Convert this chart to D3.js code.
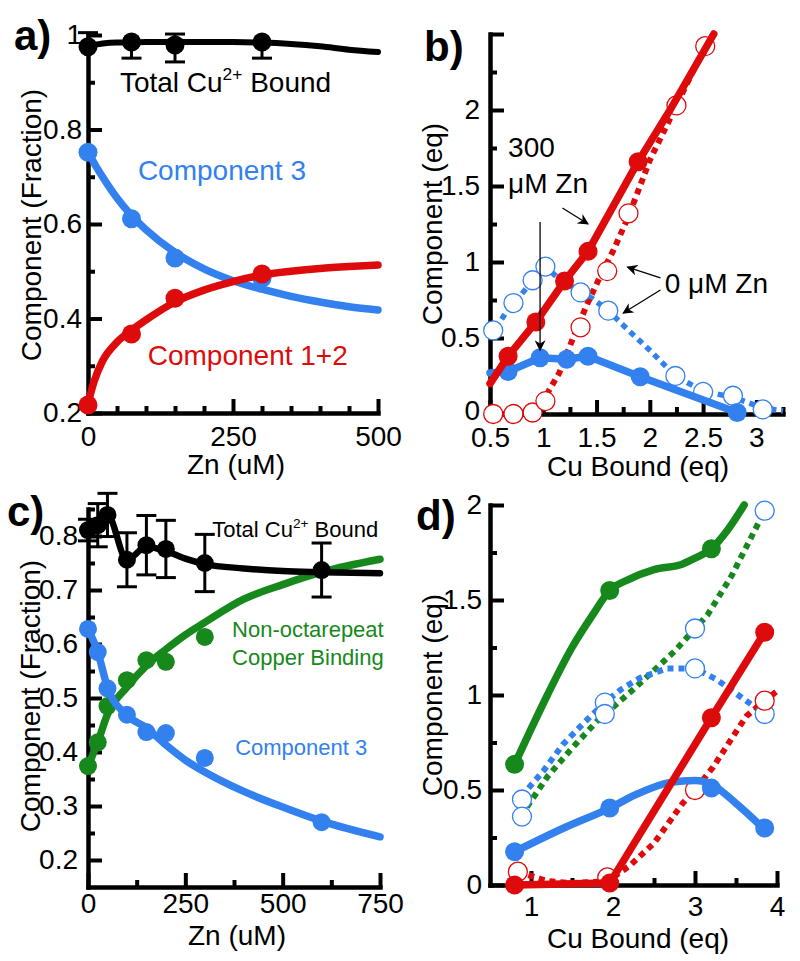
<!DOCTYPE html>
<html>
<head>
<meta charset="utf-8">
<script src="https://cdn.jsdelivr.net/npm/d3@7"></script>
<style>
  body { margin: 0; background: #fff; }
  text { font-family: Arial, "Liberation Sans", Helvetica, sans-serif; }
</style>
</head>
<body>
<div id="chart"></div>
<script>
// ---------- panel a: fraction vs Zn ----------
const aZn = [0, 75, 150, 300];
const aTotal = [0.975, 0.985, 0.979, 0.985];
const aTotalUp = [0.03, 0, 0.023, 0];
const aTotalDown = [0, 0.034, 0.036, 0.034];
const aComp3 = [0.752, 0.611, 0.528, 0.485];
const aComp12 = [0.217, 0.367, 0.443, 0.494];
const aFitZn = [0, 10, 25, 50, 75, 100, 150, 200, 250, 300, 350, 400, 450, 500];
const aTotalFit = [0.975, 0.979, 0.982, 0.984, 0.984, 0.985, 0.985, 0.985, 0.985, 0.984, 0.981, 0.976, 0.969, 0.964];
const aComp3Fit = [0.755, 0.73, 0.70, 0.655, 0.618, 0.588, 0.54, 0.505, 0.48, 0.462, 0.447, 0.435, 0.425, 0.418];
const aComp12Fit = [0.22, 0.265, 0.31, 0.35, 0.375, 0.397, 0.435, 0.46, 0.478, 0.492, 0.5, 0.506, 0.51, 0.513];

// ---------- panel b: eq vs Cu bound ----------
const bRed300X = [0.67, 0.93, 1.2, 1.42, 1.89];
const bRed300Y = [0.38, 0.605, 0.875, 1.07, 1.66];
const bRed300LineX = [0.5, 0.67, 0.93, 1.2, 1.42, 1.89, 2.19, 2.6];
const bRed300LineY = [0.2, 0.38, 0.605, 0.875, 1.07, 1.66, 2.0, 2.5];
const bBlue300X = [0.67, 0.97, 1.22, 1.42, 1.91, 2.82];
const bBlue300Y = [0.28, 0.37, 0.36, 0.38, 0.245, 0.01];
const bBlue300LineX = [0.5, 0.67, 0.97, 1.22, 1.42, 1.91, 2.82];
const bBlue300LineY = [0.27, 0.28, 0.37, 0.36, 0.38, 0.245, 0.01];
const bRed0X = [0.53, 0.72, 0.9, 1.02, 1.35, 1.6, 1.8, 2.25, 2.52];
const bRed0Y = [0.0, 0.0, 0.01, 0.085, 0.57, 0.94, 1.32, 2.03, 2.42];
const bRed0LineX = [0.5, 0.8, 1.0, 1.05, 1.15, 1.28, 1.41, 1.53, 1.66, 1.8, 2.0, 2.25, 2.47, 2.55];
const bRed0LineY = [0.0, 0.0, 0.06, 0.15, 0.27, 0.5, 0.72, 0.9, 1.08, 1.3, 1.67, 2.03, 2.35, 2.5];
const bBlue0X = [0.53, 0.72, 0.9, 1.02, 1.35, 1.61, 2.24, 2.5, 2.78, 3.06];
const bBlue0Y = [0.55, 0.73, 0.88, 0.97, 0.8, 0.68, 0.25, 0.145, 0.12, 0.03];
const bBlue0LineX = [0.5, 0.66, 0.72, 0.9, 1.02, 1.13, 1.35, 1.46, 1.61, 1.8, 2.0, 2.24, 2.5, 2.78, 3.06, 3.25];
const bBlue0LineY = [0.5, 0.68, 0.72, 0.88, 0.97, 0.9, 0.8, 0.76, 0.68, 0.55, 0.42, 0.25, 0.15, 0.11, 0.04, 0.02];

// ---------- panel c: fraction vs Zn ----------
const cZn = [0, 25, 50, 100, 150, 200, 300, 600];
const cTotal = [0.811, 0.82, 0.839, 0.756, 0.783, 0.776, 0.75, 0.737];
const cTotalErr = [0.02, 0.04, 0.04, 0.05, 0.055, 0.053, 0.053, 0.05];
const cComp3 = [0.628, 0.585, 0.518, 0.469, 0.437, 0.435, 0.389, 0.27];
const cNonOctaZn = [0, 25, 50, 100, 150, 200, 300];
const cNonOcta = [0.374, 0.418, 0.485, 0.533, 0.57, 0.567, 0.613];
const cFitZn = [0, 25, 50, 100, 150, 200, 250, 300, 400, 500, 600, 750];
const cTotalFit = [0.811, 0.82, 0.839, 0.756, 0.78, 0.772, 0.758, 0.748, 0.74, 0.735, 0.733, 0.731];
const cComp3Fit = [0.628, 0.585, 0.52, 0.468, 0.445, 0.413, 0.385, 0.363, 0.327, 0.298, 0.272, 0.243];
const cNonOctaFit = [0.374, 0.418, 0.47, 0.52, 0.56, 0.59, 0.617, 0.64, 0.683, 0.71, 0.733, 0.757];

// ---------- panel d: eq vs Cu bound ----------
const dCu = [0.8, 1.96, 3.2, 3.85];
const dGreen = [0.635, 1.55, 1.77];
const dGreenLineX = [0.8, 1.0, 1.2, 1.5, 1.75, 1.96, 2.2, 2.5, 2.85, 3.0, 3.2, 3.4, 3.6];
const dGreenLineY = [0.635, 0.82, 1.0, 1.25, 1.42, 1.55, 1.61, 1.66, 1.69, 1.72, 1.77, 1.87, 2.0];
const dBlue = [0.175, 0.405, 0.51, 0.3];
const dBlueLineX = [0.8, 1.4, 1.96, 2.3, 2.7, 3.0, 3.2, 3.5, 3.83];
const dBlueLineY = [0.175, 0.3, 0.405, 0.48, 0.54, 0.55, 0.53, 0.43, 0.3];
const dRed = [0.0, 0.01, 0.88, 1.33];
const dOpenCu = [0.89, 1.9, 3.0, 3.85];
const dBlueOpen = [0.45, 0.96, 1.14, 0.9];
const dGreenOpen = [0.36, 0.9, 1.35, 1.97];
const dRedOpenCu = [0.84, 1.93, 3.0, 3.85];
const dRedOpen = [0.07, 0.04, 0.5, 0.97];
const dGreenDotX = [0.95, 1.2, 1.5, 1.8, 2.25, 2.75, 3.15, 3.45, 3.85];
const dGreenDotY = [0.41, 0.57, 0.72, 0.86, 1.03, 1.23, 1.42, 1.63, 1.97];
const dBlueDotX = [0.97, 1.15, 1.39, 1.66, 1.9, 2.1, 2.33, 2.66, 3.0, 3.27, 3.59, 3.85];
const dBlueDotY = [0.51, 0.6, 0.74, 0.86, 0.96, 1.03, 1.09, 1.14, 1.14, 1.08, 0.98, 0.9];
const dRedDotX = [0.84, 1.2, 1.5, 1.93, 2.2, 2.5, 2.85, 3.0, 3.22, 3.46, 3.63, 3.85, 4.0];
const dRedDotY = [0.07, 0.02, 0.01, 0.02, 0.1, 0.22, 0.43, 0.5, 0.62, 0.78, 0.89, 0.97, 1.02];

const BLUE = '#3281ee', RED = '#dd0b0b', GREEN = '#17881b', BLACK = '#000';

const svg = d3.select('#chart').append('svg')
  .attr('width', 800)
  .attr('height', 961);

svg.append('defs').append('marker')
  .attr('id', 'arrow')
  .attr('viewBox', '0 0 10 10')
  .attr('refX', 9).attr('refY', 5)
  .attr('markerWidth', 11).attr('markerHeight', 11)
  .attr('markerUnits', 'userSpaceOnUse')
  .attr('orient', 'auto')
  .append('path')
  .attr('d', 'M0,0L10,5L0,10L3,5Z')
  .attr('fill', '#000');

const drawAxes = (x, y, s) => {
  const bottom = y.range()[0];
  const left = x.range()[0];
  const parts = [
    [d3.axisBottom(x).tickValues(s.xMinor).tickSizeInner(-7).tickFormat(''), `translate(0,${bottom})`, false],
    [d3.axisBottom(x).tickValues(s.xMajor).tickSizeInner(-14).tickPadding(s.xPad).tickFormat(s.fmt), `translate(0,${bottom})`, true],
    [d3.axisLeft(y).tickValues(s.yMinor).tickSizeInner(-7).tickFormat(''), `translate(${left},0)`, false],
    [d3.axisLeft(y).tickValues(s.yMajor).tickSizeInner(-14).tickPadding(s.yPad).tickFormat(s.yFmt || s.fmt), `translate(${left},0)`, true]
  ];
  parts.forEach(([ax, tr, keep]) => {
    const g = svg.append('g').attr('transform', tr)
      .call(ax.tickSizeOuter(0))
      .attr('font-size', 28)
      .attr('font-family', null);
    if (!keep) g.select('.domain').remove();
    g.select('.domain').attr('stroke-width', 4.5).attr('stroke-linecap', 'square');
    g.selectAll('.tick line').attr('stroke-width', 4);
    g.selectAll('.tick text').attr('fill', '#000');
  });
};

const fmt = d => d3.format('~g')(d);

const lineOf = (x, y, xs, ys, color, width, dashed, curve) => {
  svg.append('path')
    .datum(xs.map((v, i) => [v, ys[i]]))
    .attr('fill', 'none')
    .attr('stroke', color)
    .attr('stroke-width', width)
    .attr('stroke-dasharray', dashed ? '6,5' : null)
    .attr('stroke-linejoin', 'round')
    .attr('stroke-linecap', dashed ? 'butt' : 'round')
    .attr('d', d3.line().curve(curve || d3.curveLinear).x(d => x(d[0])).y(d => y(d[1])));
};

const dots = (x, y, xs, ys, color, r, open) => {
  svg.append('g').selectAll('circle')
    .data(xs.map((v, i) => [v, ys[i]]))
    .join('circle')
    .attr('cx', d => x(d[0]))
    .attr('cy', d => y(d[1]))
    .attr('r', r)
    .attr('fill', open ? '#fff' : color)
    .attr('stroke', color)
    .attr('stroke-width', open ? 1.3 : 0);
};

const errBars = (x, y, xs, ys, up, down) => {
  const g = svg.append('g').attr('stroke', '#000').attr('stroke-width', 3);
  xs.forEach((v, i) => {
    const cx = x(v);
    const top = y(ys[i] + up[i]), bot = y(ys[i] - down[i]);
    g.append('line').attr('x1', cx).attr('x2', cx).attr('y1', top).attr('y2', bot);
    if (up[i] > 0) g.append('line').attr('x1', cx - 10).attr('x2', cx + 10).attr('y1', top).attr('y2', top);
    if (down[i] > 0) g.append('line').attr('x1', cx - 10).attr('x2', cx + 10).attr('y1', bot).attr('y2', bot);
  });
};

const label = (px, py, str, size, color, opts = {}) => {
  const t = svg.append('text')
    .attr('x', px).attr('y', py)
    .attr('font-size', size)
    .attr('fill', color)
    .attr('font-weight', opts.bold ? 'bold' : null)
    .attr('text-anchor', opts.anchor || 'start');
  if (opts.rotate) t.attr('transform', `rotate(-90,${px},${py})`);
  return t.text(str);
};

const cuLabel = (px, py, size) => {
  const t = svg.append('text').attr('x', px).attr('y', py).attr('font-size', size).attr('fill', '#000');
  t.append('tspan').text('Total Cu');
  t.append('tspan').attr('font-size', size * 0.62).attr('dy', -size * 0.42).text('2+');
  t.append('tspan').attr('dy', size * 0.42).text(' Bound');
};

// ================= panel a =================
{
  const x = d3.scaleLinear().domain([0, 500]).range([88, 378]);
  const y = d3.scaleLinear().domain([0.2, 1]).range([413, 35]);
  drawAxes(x, y, {
    xMajor: [0, 250, 500], xMinor: d3.range(50, 500, 50).filter(v => v !== 250),
    yMajor: [0.2, 0.4, 0.6, 0.8, 1], yMinor: [0.3, 0.5, 0.7, 0.9],
    xPad: 13, yPad: 6, fmt
  });
  lineOf(x, y, aFitZn, aTotalFit, BLACK, 6, false, d3.curveMonotoneX);
  errBars(x, y, aZn, aTotal, aTotalUp, aTotalDown);
  dots(x, y, aZn, aTotal, BLACK, 9.5);
  lineOf(x, y, aFitZn, aComp3Fit, BLUE, 7.5, false, d3.curveMonotoneX);
  dots(x, y, aZn, aComp3, BLUE, 9.5);
  lineOf(x, y, aFitZn, aComp12Fit, RED, 7.5, false, d3.curveMonotoneX);
  dots(x, y, aZn, aComp12, RED, 9.5);

  cuLabel(x(55), y(0.879), 28);
  label(x(86), y(0.693), 'Component 3', 28, BLUE);
  label(x(103), y(0.302), 'Component 1+2', 28, RED);
  label(236, 474, 'Zn (uM)', 28, '#000', { anchor: 'middle' });
  label(41, 225, 'Component (Fraction)', 28, '#000', { anchor: 'middle', rotate: true });
  label(14, 50, 'a)', 42, '#000', { bold: true });
}

// ================= panel b =================
{
  const x = d3.scaleLinear().domain([0.5, 3.25]).range([490, 783]);
  const y = d3.scaleLinear().domain([0, 2.5]).range([414, 34]);
  drawAxes(x, y, {
    xMajor: [0.5, 1, 1.5, 2, 2.5, 3], xMinor: [0.75, 1.25, 1.75, 2.25, 2.75, 3.25],
    yMajor: [0, 0.5, 1, 1.5, 2, 2.5], yMinor: [0.25, 0.75, 1.25, 1.75, 2.25],
    xPad: 13, yPad: 10, fmt, yFmt: d => (d === 2.5 ? '' : fmt(d))
  });
  // nudge the "0" y label up a touch so it clears the "0.5" x label
  svg.selectAll('.tick text').filter(function () {
    return this.textContent === '0' && +this.getAttribute('x') === -10;
  }).attr('dy', '0.2em');

  lineOf(x, y, bBlue0LineX, bBlue0LineY, BLUE, 5.5, true);
  lineOf(x, y, bRed0LineX, bRed0LineY, RED, 6, true);
  dots(x, y, bBlue0X, bBlue0Y, BLUE, 9.5, true);
  dots(x, y, bRed0X, bRed0Y, RED, 9.5, true);
  lineOf(x, y, bBlue300LineX, bBlue300LineY, BLUE, 7.5);
  dots(x, y, bBlue300X, bBlue300Y, BLUE, 9.5);
  lineOf(x, y, bRed300LineX, bRed300LineY, RED, 7.5);
  dots(x, y, bRed300X, bRed300Y, RED, 9.5);

  label(x(0.67), y(1.69), '300', 28, '#000');
  label(x(0.67), y(1.454), '\u03bcM Zn', 28, '#000');
  label(x(2.14), y(0.796), '0 \u03bcM Zn', 28, '#000');
  const arrows = [
    [1.18, 1.355, 1.42, 1.25],
    [0.97, 1.263, 0.97, 0.42],
    [2.1, 0.895, 1.79, 0.967],
    [2.1, 0.816, 1.75, 0.664]
  ];
  arrows.forEach(a => {
    svg.append('line')
      .attr('x1', x(a[0])).attr('y1', y(a[1]))
      .attr('x2', x(a[2])).attr('y2', y(a[3]))
      .attr('stroke', '#000').attr('stroke-width', 1.3)
      .attr('marker-end', 'url(#arrow)');
  });
  label(638, 476, 'Cu Bound (eq)', 28, '#000', { anchor: 'middle' });
  label(442, 224, 'Component (eq)', 28, '#000', { anchor: 'middle', rotate: true });
  label(424, 61, 'b)', 42, '#000', { bold: true });
}

// ================= panel c =================
{
  const x = d3.scaleLinear().domain([0, 750]).range([88, 380]);
  const y = d3.scaleLinear().domain([0.15, 0.85]).range([887, 509]);
  drawAxes(x, y, {
    xMajor: [0, 250, 500, 750], xMinor: [125, 375, 625],
    yMajor: [0.2, 0.3, 0.4, 0.5, 0.6, 0.7, 0.8], yMinor: [0.25, 0.35, 0.45, 0.55, 0.65, 0.75, 0.85],
    xPad: 6, yPad: 10, fmt
  });
  lineOf(x, y, cFitZn, cNonOctaFit, GREEN, 7.5, false, d3.curveMonotoneX);
  dots(x, y, cNonOctaZn, cNonOcta, GREEN, 9);
  lineOf(x, y, cFitZn, cComp3Fit, BLUE, 7.5, false, d3.curveMonotoneX);
  dots(x, y, cZn, cComp3, BLUE, 9);
  lineOf(x, y, cFitZn, cTotalFit, BLACK, 6.5, false, d3.curveMonotoneX);
  errBars(x, y, cZn, cTotal, cTotalErr, cTotalErr);
  dots(x, y, cZn, cTotal, BLACK, 9);

  cuLabel(x(319), y(0.798), 22);
  label(x(370), y(0.613), 'Non-octarepeat', 22, GREEN);
  label(x(370), y(0.561), 'Copper Binding', 22, GREEN);
  label(x(378), y(0.394), 'Component 3', 22, BLUE);
  label(237, 945, 'Zn (uM)', 28, '#000', { anchor: 'middle' });
  label(40, 696, 'Component (Fraction)', 28, '#000', { anchor: 'middle', rotate: true });
  label(7, 526, 'c)', 42, '#000', { bold: true });
}

// ================= panel d =================
{
  const x = d3.scaleLinear().domain([0.5, 4]).range([490, 777]);
  const y = d3.scaleLinear().domain([0, 2]).range([885, 505]);
  drawAxes(x, y, {
    xMajor: [1, 2, 3, 4], xMinor: [1.5, 2.5, 3.5],
    yMajor: [0, 0.5, 1, 1.5, 2], yMinor: [0.25, 0.75, 1.25, 1.75],
    xPad: 11, yPad: 8, fmt
  });
  lineOf(x, y, dGreenDotX, dGreenDotY, GREEN, 6, true);
  lineOf(x, y, dBlueDotX, dBlueDotY, BLUE, 6, true);
  lineOf(x, y, dRedDotX, dRedDotY, RED, 6, true);
  dots(x, y, dOpenCu, dBlueOpen, BLUE, 9.5, true);
  dots(x, y, dOpenCu, dGreenOpen, BLUE, 9.5, true);
  dots(x, y, dRedOpenCu, dRedOpen, RED, 9.5, true);
  lineOf(x, y, dGreenLineX, dGreenLineY, GREEN, 7.5, false, d3.curveMonotoneX);
  dots(x, y, dCu.slice(0, 3), dGreen, GREEN, 9.5);
  lineOf(x, y, dBlueLineX, dBlueLineY, BLUE, 7.5, false, d3.curveMonotoneX);
  dots(x, y, dCu, dBlue, BLUE, 9.5);
  lineOf(x, y, dCu, dRed, RED, 7.5);
  dots(x, y, dCu, dRed, RED, 9.5);

  label(638, 948, 'Cu Bound (eq)', 28, '#000', { anchor: 'middle' });
  label(442, 695, 'Component (eq)', 28, '#000', { anchor: 'middle', rotate: true });
  label(416, 530, 'd)', 42, '#000', { bold: true });
}
</script>
</body>
</html>
